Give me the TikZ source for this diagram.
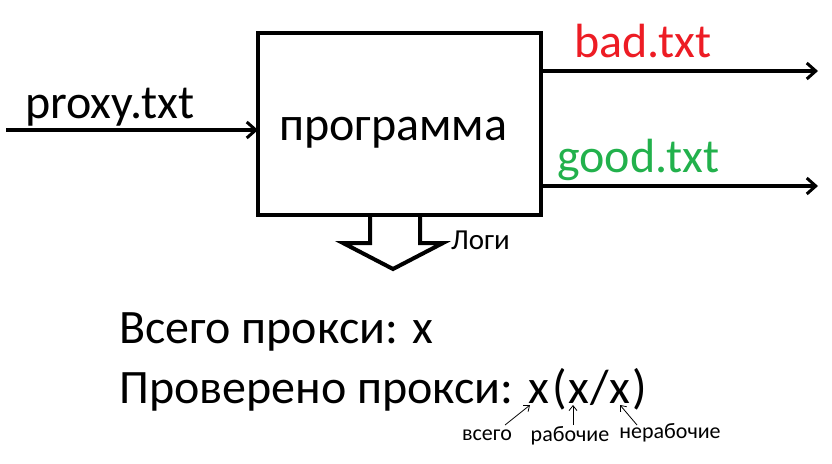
\documentclass[tikz,border=0pt]{standalone}
\usepackage{fontspec}
\setmainfont{Carlito}
\usetikzlibrary{arrows.meta}
\definecolor{badred}{RGB}{237,28,36}
\definecolor{goodgreen}{RGB}{34,177,76}
\tikzset{
  thick line/.style={line width=4pt},
  flow/.style={thick line,-{Straight Barb[length=9pt,width=16pt,line width=3pt]}},
  big/.style={font=\fontsize{48}{56}\selectfont, inner sep=0pt, anchor=base west},
  small/.style={font=\fontsize{29}{33}\selectfont, inner sep=0pt, anchor=base west},
  tiny/.style={font=\fontsize{22}{26}\selectfont, inner sep=0pt, anchor=base},
  note/.style={line width=0.8pt,-{Straight Barb[length=5pt,width=8pt,line width=0.8pt]}}
}
\begin{document}
\begin{tikzpicture}[x=1pt,y=-1pt]
\useasboundingbox (0,0) rectangle (832,463);
% box
\draw[thick line] (258,33) rectangle (541,215);
\coordinate (boxW) at (258,130);
\coordinate (boxE1) at (541,71);
\coordinate (boxE2) at (541,186);
\coordinate (inStart) at (6,130);
\coordinate (badEnd) at (818,71);
\coordinate (goodEnd) at (818,186);
\node[big] (prog) at (279,140) {программа};
\node[big] (proxy) at (25,118) {proxy.txt};
\node[big, text=badred] (bad) at (574,57) {bad.txt};
\node[big, text=goodgreen] (good) at (557,172) {good.txt};
\draw[flow] (inStart) -- (boxW);
\draw[flow] (boxE1) -- (badEnd);
\draw[flow] (boxE2) -- (goodEnd);
% block arrow
\draw[thick line, line join=miter] (370,215) -- (370,243) -- (343,243) -- (393,269) -- (443,243) -- (420,243) -- (420,215);
\node[small] (logs) at (451,249) {Логи};
% stats
\node[big] (total) at (119,343) {Всего прокси: x};
\node[big] (checked) at (119,403) {Проверено прокси: x\kern3pt(\kern2pt x\kern1pt/\kern1pt x\kern2pt)};
% notes
\node[tiny] (lv) at (487,440) {всего};
\node[tiny] (lr) at (570,441) {рабочие};
\node[tiny] (ln) at (670,438) {нерабочие};
\coordinate (av1) at (505,425);
\coordinate (av2) at (530,405);
\coordinate (ar1) at (573,425);
\coordinate (ar2) at (573,405);
\coordinate (an1) at (637,425);
\coordinate (an2) at (620,405);
\draw[note] (av1) -- (av2);
\draw[note] (ar1) -- (ar2);
\draw[note] (an1) -- (an2);
\end{tikzpicture}
\end{document}
